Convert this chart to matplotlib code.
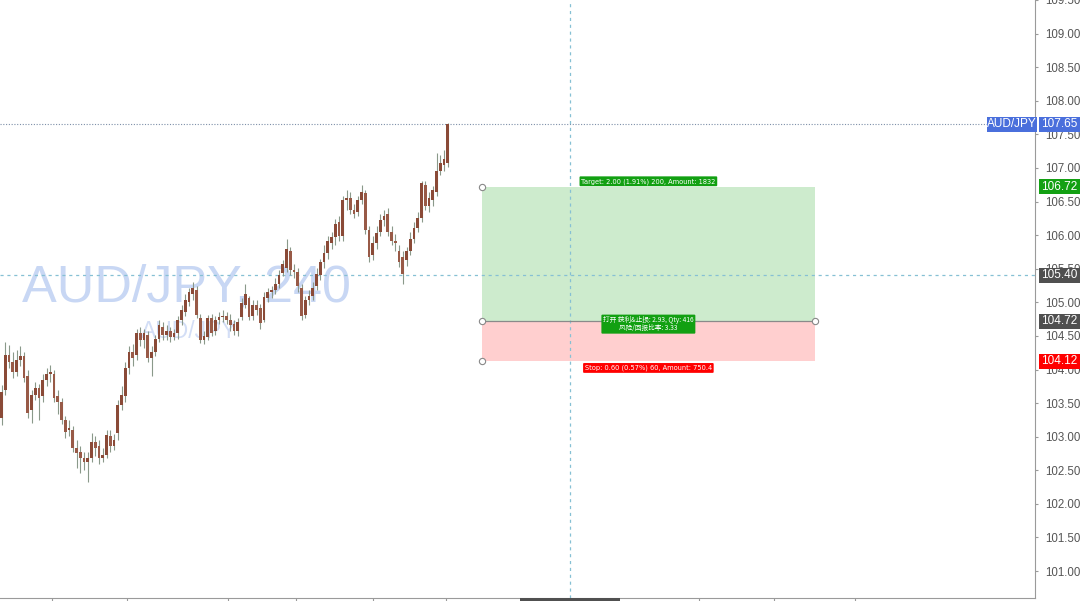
import matplotlib
matplotlib.use("Agg")
import matplotlib.pyplot as plt
import matplotlib.transforms as mtransforms
from matplotlib.patches import Rectangle
import numpy as np

# ---------------- data ----------------
symbol = "AUD/JPY"
interval = "240"

opens = [103.28, 103.69, 104.21, 104.11, 103.96, 104.14, 104.20, 103.90, 103.40, 103.62,
         103.72, 103.60, 103.84, 103.93, 103.94, 103.60, 103.51, 103.25, 103.10, 103.10,
         102.83, 102.77, 102.68, 102.62, 102.68, 102.92, 102.86, 102.68, 102.73, 103.01,
         102.86, 103.05, 103.47, 103.60, 104.02, 104.26, 104.21, 104.54, 104.44, 104.51,
         104.17, 104.26, 104.46, 104.64, 104.51, 104.58, 104.48, 104.54, 104.73, 104.85,
         105.00, 105.12, 105.18, 104.76, 104.44, 104.48, 104.76, 104.58, 104.73, 104.78,
         104.79, 104.73, 104.67, 104.58, 104.78, 104.96, 105.06, 104.79, 104.96, 104.91,
         104.73, 105.06, 105.15, 105.18, 105.28, 105.43, 105.51, 105.77, 105.48, 105.45,
         105.21, 104.81, 105.03, 105.09, 105.24, 105.40, 105.60, 105.74, 105.89, 105.97,
         106.19, 105.98, 106.52, 106.55, 106.37, 106.34, 106.52, 106.62, 106.07, 105.71,
         105.89, 106.04, 106.22, 106.31, 106.04, 105.92, 105.77, 105.68, 105.63, 105.77,
         105.95, 106.10, 106.25, 106.74, 106.44, 106.52, 106.64, 106.96, 107.04, 107.07]
closes = [103.66, 104.21, 104.11, 103.96, 104.14, 104.20, 103.87, 103.35, 103.62, 103.72,
          103.57, 103.84, 103.93, 103.96, 103.57, 103.51, 103.25, 103.07, 103.13, 102.83,
          102.76, 102.68, 102.62, 102.68, 102.92, 102.83, 102.68, 102.73, 103.02, 102.86,
          102.95, 103.47, 103.62, 104.02, 104.26, 104.17, 104.55, 104.44, 104.54, 104.17,
          104.26, 104.46, 104.66, 104.51, 104.58, 104.48, 104.54, 104.73, 104.88, 105.03,
          105.15, 105.21, 104.81, 104.44, 104.50, 104.76, 104.55, 104.73, 104.78, 104.79,
          104.73, 104.66, 104.58, 104.70, 104.99, 105.13, 104.78, 104.96, 104.88, 104.69,
          105.08, 105.15, 105.18, 105.28, 105.40, 105.57, 105.80, 105.48, 105.45, 105.24,
          104.79, 105.03, 105.09, 105.21, 105.42, 105.60, 105.74, 105.92, 105.97, 106.16,
          105.98, 106.52, 106.56, 106.37, 106.32, 106.52, 106.64, 106.07, 105.68, 105.89,
          106.03, 106.22, 106.29, 106.04, 105.92, 105.89, 105.60, 105.42, 105.77, 105.95,
          106.10, 106.25, 106.78, 106.44, 106.55, 106.67, 106.96, 107.07, 107.14, 107.65]
highs = [103.77, 104.41, 104.36, 104.26, 104.29, 104.35, 104.26, 103.99, 103.69, 103.81,
         103.78, 103.93, 104.02, 104.06, 103.99, 103.69, 103.57, 103.31, 103.25, 103.16,
         102.95, 102.86, 102.77, 102.77, 103.05, 103.01, 102.95, 102.83, 103.10, 103.10,
         103.04, 103.54, 103.75, 104.11, 104.35, 104.38, 104.61, 104.64, 104.61, 104.58,
         104.35, 104.52, 104.73, 104.70, 104.66, 104.64, 104.61, 104.79, 104.96, 105.12,
         105.21, 105.30, 105.24, 104.82, 104.58, 104.81, 104.82, 104.79, 104.85, 104.88,
         104.85, 104.82, 104.73, 104.76, 105.06, 105.28, 105.10, 105.03, 105.03, 104.97,
         105.15, 105.21, 105.25, 105.36, 105.48, 105.63, 105.95, 105.83, 105.57, 105.51,
         105.27, 105.10, 105.18, 105.30, 105.51, 105.65, 105.85, 105.98, 106.04, 106.24,
         106.28, 106.59, 106.67, 106.64, 106.46, 106.58, 106.74, 106.67, 106.13, 105.98,
         106.13, 106.31, 106.37, 106.40, 106.13, 106.01, 105.86, 105.77, 105.83, 106.04,
         106.19, 106.34, 106.81, 106.81, 106.64, 106.73, 107.23, 107.19, 107.26, 107.67]
lows = [103.17, 103.62, 104.02, 103.87, 103.90, 104.05, 103.81, 103.28, 103.20, 103.54,
        103.25, 103.51, 103.75, 103.81, 103.51, 103.34, 103.19, 102.98, 103.01, 102.77,
        102.53, 102.46, 102.50, 102.32, 102.62, 102.71, 102.59, 102.62, 102.68, 102.77,
        102.80, 102.95, 103.40, 103.51, 103.93, 104.05, 104.14, 104.35, 104.32, 104.11,
        103.91, 104.20, 104.41, 104.44, 104.44, 104.41, 104.44, 104.46, 104.66, 104.79,
        104.94, 105.03, 104.76, 104.39, 104.38, 104.44, 104.50, 104.52, 104.67, 104.70,
        104.67, 104.58, 104.52, 104.50, 104.73, 104.91, 104.73, 104.73, 104.81, 104.61,
        104.70, 105.00, 105.06, 105.12, 105.21, 105.39, 105.45, 105.40, 105.36, 105.15,
        104.73, 104.76, 104.96, 105.03, 105.18, 105.33, 105.51, 105.65, 105.80, 105.86,
        105.92, 105.92, 106.37, 106.31, 106.25, 106.28, 106.46, 106.01, 105.60, 105.63,
        105.80, 105.98, 106.13, 105.98, 105.85, 105.77, 105.52, 105.27, 105.54, 105.71,
        105.89, 106.04, 106.19, 106.37, 106.34, 106.44, 106.58, 106.89, 106.96, 107.02]

last_price = 107.65
entry_price = 104.72
target_price = 106.72
stop_price = 104.12
crosshair_price = 105.40
y_ticks = [101.00, 101.50, 102.00, 102.50, 103.00, 103.50, 104.00, 104.50, 105.00,
           105.50, 106.00, 106.50, 107.00, 107.50, 108.00, 108.50, 109.00, 109.50]
x_ticks = [13.5, 33.5, 60.5, 78.5, 99.0, 118.5, 186.0, 206.0, 227.5]

target_label = "Target: 2.00 (1.91%) 200, Amount: 1832"
middle_label = "打开 获利&止损: 2.93, Qty: 416\n风险/回报比率: 3.33"
stop_label = "Stop: 0.60 (0.57%) 60, Amount: 750.4"

# ---------------- layout ----------------
W, H = 1080, 601
fig = plt.figure(figsize=(W / 100, H / 100), dpi=100)
ax = fig.add_axes([0, 3 / H, 1035 / W, 598 / H])
ax.set_xlim(-0.4, 275.6)
ax.set_ylim(100.599, 109.491)

pos_x0, pos_x1 = 128.1, 216.9
cross_x = 151.6
label_x = 172.5

# watermark
ax.text(22 / W, 1 - 302 / H, f"{symbol}, {interval}", transform=fig.transFigure,
        fontsize=37.5, family="Liberation Sans", color="#c8d7f4", ha="left",
        va="baseline", zorder=0.5, clip_on=False)
ax.text(141 / W, 1 - 338 / H, symbol, transform=fig.transFigure,
        fontsize=16.5, family="Liberation Sans", color="#d3def6", ha="left",
        va="baseline", zorder=0.5, clip_on=False)

# candles
idx = np.arange(len(opens))
o = np.array(opens); c = np.array(closes); h = np.array(highs); l = np.array(lows)
up = c >= o
ax.vlines(idx, l, h, color="#8a998a", lw=0.8, zorder=2)
body_bottom = np.minimum(o, c)
body_h = np.maximum(np.abs(c - o), 0.015)
colors = np.where(up, "#8a4a37", "#985a47")
ax.bar(idx, body_h, bottom=body_bottom, width=0.7, color=colors, linewidth=0, zorder=3)

# position tool
ax.add_patch(Rectangle((pos_x0, entry_price), pos_x1 - pos_x0, target_price - entry_price,
                       facecolor="#cdebcd", edgecolor="none", zorder=1))
ax.add_patch(Rectangle((pos_x0, stop_price), pos_x1 - pos_x0, entry_price - stop_price,
                       facecolor="#ffcfcf", edgecolor="none", zorder=1))
ax.plot([pos_x0, pos_x1], [entry_price, entry_price], color="#8a8a8a", lw=0.9, zorder=1.5)
ax.plot([pos_x0, pos_x0, pos_x1, pos_x0], [target_price, entry_price, entry_price, stop_price],
        ls="none", marker="o", ms=4.5, mfc="white", mec="#888888", mew=0.8, zorder=6)

# crosshair and last-price line
ax.axhline(last_price, color="#7d8fa8", lw=0.8, ls=(0, (1, 1.5)), zorder=1.2)
ax.axhline(crosshair_price, color="#86c0d4", lw=0.9, ls=(0, (2.5, 3)), zorder=1.2)
ax.axvline(cross_x, color="#86c0d4", lw=0.9, ls=(0, (2.5, 3)), zorder=1.2)

def off(dy):
    return mtransforms.offset_copy(ax.transData, fig=fig, x=0, y=dy, units="dots")

box_kw = dict(boxstyle="round,pad=0.25,rounding_size=0.15", linewidth=0)
ax.text(label_x, target_price, target_label, transform=off(5.5), ha="center", va="center",
        fontsize=4.8, color="white", bbox=dict(facecolor="#12a012", **box_kw), zorder=7)
ax.text(label_x, entry_price, middle_label, transform=off(-3), ha="center", va="center",
        fontsize=4.8, color="white", family=["Noto Sans CJK SC", "DejaVu Sans"],
        linespacing=0.95, bbox=dict(facecolor="#12a012", **box_kw), zorder=7)
ax.text(label_x, stop_price, stop_label, transform=off(-6.5), ha="center", va="center",
        fontsize=4.8, color="white", bbox=dict(facecolor="#ff0000", **box_kw), zorder=7)

# axes styling
for s in ["top", "left"]:
    ax.spines[s].set_visible(False)
ax.spines["right"].set_color("#9a9a9a")
ax.spines["bottom"].set_color("#9a9a9a")
ax.yaxis.tick_right()
ax.set_yticks(y_ticks)
ax.set_yticklabels([f"{v:.2f}" for v in y_ticks])
ax.tick_params(axis="y", length=2.5, color="#9a9a9a", pad=5, labelsize=8.3,
               labelcolor="#555555")
for t in ax.get_yticklabels():
    t.set_family("Liberation Sans")
ax.set_xticks(x_ticks)
ax.set_xticklabels([])
ax.tick_params(axis="x", length=3, color="#9a9a9a")

# price labels on the right axis
blend = mtransforms.blended_transform_factory(ax.transAxes, ax.transData)
bh = 15 / 67.25
def price_box(x0px, x1px, price, text, color):
    xa0 = x0px / 1035
    xa1 = x1px / 1035
    ax.add_patch(Rectangle((xa0, price - bh / 2), xa1 - xa0, bh, transform=blend,
                           facecolor=color, edgecolor="none", clip_on=False, zorder=10))
    ax.text((xa0 + xa1) / 2, price, text, transform=blend, ha="center", va="center",
            fontsize=8.5, color="white", family="Liberation Sans", clip_on=False, zorder=11)

price_box(987, 1037, last_price, symbol, "#4a6fdc")
price_box(1039, 1080, last_price, f"{last_price:.2f}", "#4a6fdc")
price_box(1039, 1080, target_price, f"{target_price:.2f}", "#13a013")
price_box(1039, 1080, crosshair_price, f"{crosshair_price:.2f}", "#505050")
price_box(1039, 1080, entry_price, f"{entry_price:.2f}", "#505050")
price_box(1039, 1080, stop_price, f"{stop_price:.2f}", "#ff0000")

# crosshair time label (cut off at bottom)
fig.patches.append(Rectangle((520 / W, 0), 100 / W, 3 / H, transform=fig.transFigure,
                             facecolor="#505050", edgecolor="none"))

fig.savefig("out.png", dpi=100)
